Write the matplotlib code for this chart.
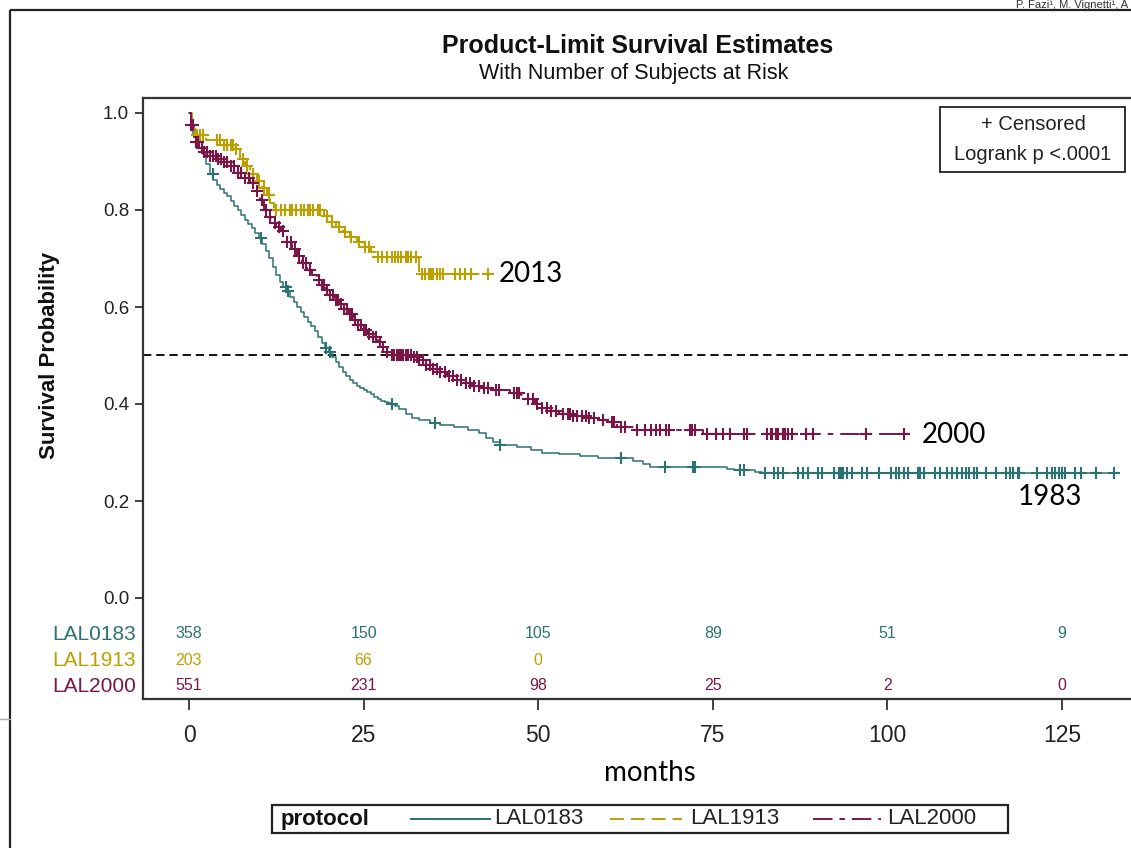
import numpy as np
import matplotlib
matplotlib.use("Agg")
import matplotlib.pyplot as plt
from matplotlib.patches import Rectangle

plt.rcParams["lines.scale_dashes"] = False

# ---------------- data ----------------
# Kaplan-Meier step knots: (months, survival probability)
lal0183_steps = [
    (0, 1.0), (0.3, 0.975), (0.6, 0.955), (1, 0.94), (1.5, 0.928), (2, 0.915),
    (2.5, 0.895), (3, 0.875), (3.5, 0.862), (4, 0.852), (4.5, 0.844), (5, 0.836),
    (5.5, 0.828), (6, 0.818), (6.5, 0.809), (7, 0.80), (7.5, 0.79), (8, 0.78),
    (8.5, 0.771), (9, 0.762), (9.5, 0.752), (10, 0.742), (10.5, 0.73), (11, 0.716),
    (11.5, 0.70), (12, 0.683), (12.5, 0.666), (13, 0.652), (13.5, 0.642), (14, 0.632),
    (14.5, 0.62), (15, 0.61), (15.5, 0.60), (16, 0.59), (16.5, 0.58), (17, 0.57),
    (17.5, 0.56), (18, 0.55), (18.5, 0.538), (19, 0.525), (19.5, 0.516), (20, 0.507),
    (20.5, 0.497), (21, 0.487), (21.5, 0.476), (22, 0.466), (22.5, 0.457), (23, 0.45),
    (23.5, 0.443), (24, 0.437), (24.5, 0.432), (25, 0.428), (25.5, 0.424), (26, 0.42),
    (26.5, 0.415), (27, 0.41), (27.5, 0.407), (28, 0.405), (28.5, 0.402), (29, 0.40),
    (29.5, 0.395), (30, 0.39), (31, 0.38), (32, 0.372), (33, 0.367), (34.5, 0.36),
    (36, 0.357), (38, 0.352), (40, 0.347), (41.5, 0.34), (42.5, 0.33), (43.5, 0.322),
    (44.5, 0.316), (47, 0.312), (49, 0.306), (50.5, 0.30), (53, 0.297), (56, 0.293),
    (58.5, 0.289), (63.6, 0.283), (65, 0.276), (66, 0.271), (77, 0.267), (78, 0.264),
    (81, 0.26), (82, 0.257),
]
lal0183_end = 132.9
lal0183_censored = [
    3.4, 10.3, 13.9, 14.2, 19.6, 20.2, 29.0, 35.2, 44.5, 61.8, 68.2, 72.2, 72.4,
    78.9, 79.4, 82.5, 83.8, 84.3, 85.0, 87.2, 87.9, 88.6, 90.1, 90.6, 92.3, 93.0,
    93.2, 93.5, 93.7, 94.2, 94.9, 96.4, 97.1, 98.8, 100.5, 101.2, 101.7, 102.4,
    102.9, 104.4, 104.6, 105.3, 106.8, 107.5, 108.5, 109.2, 110.0, 110.7, 111.2,
    111.7, 112.4, 112.9, 114.1, 115.5, 117.0, 117.5, 118.0, 118.7, 118.9, 121.4,
    122.8, 123.5, 124.0, 124.5, 125.0, 125.5, 126.9, 127.7, 129.8, 132.5,
]

lal1913_steps = [
    (0, 1.0), (0.4, 0.975), (0.8, 0.955), (2.5, 0.945), (5, 0.935), (6.5, 0.925),
    (7.3, 0.905), (8, 0.89), (8.8, 0.875), (9.7, 0.86), (10.5, 0.845), (11.1, 0.83),
    (11.6, 0.815), (12.1, 0.80), (19.4, 0.788), (20, 0.775), (21, 0.765), (22, 0.755),
    (23, 0.745), (24, 0.734), (25, 0.724), (26, 0.713), (26.8, 0.703), (33, 0.668),
]
lal1913_end = 42.9
lal1913_censored = [
    1.2, 1.6, 2.0, 4.0, 4.5, 5.0, 5.5, 6.0, 6.3, 6.8, 7.8, 8.3, 9.2, 10.0, 10.8,
    11.4, 12.5, 13.2, 13.7, 14.4, 14.8, 15.3, 16.0, 16.5, 17.0, 17.3, 17.7, 18.4,
    18.8, 19.8, 20.5, 21.5, 22.3, 23.2, 24.3, 25.2, 25.8, 27.0, 27.7, 28.4, 29.1,
    29.5, 29.9, 30.3, 31.1, 31.4, 31.8, 32.5, 33.3, 33.8, 34.3, 34.6, 35.0, 35.5,
    35.9, 36.4, 38.1, 38.8, 39.5, 40.4, 42.8,
]

lal2000_steps = [
    (0, 1.0), (0.3, 0.975), (0.7, 0.95), (1, 0.94), (1.5, 0.928), (2, 0.92),
    (3, 0.912), (4, 0.905), (5, 0.898), (6, 0.89), (7, 0.877), (8, 0.865),
    (8.7, 0.856), (9.5, 0.84), (10.2, 0.82), (10.8, 0.80), (11.3, 0.785),
    (11.8, 0.773), (12.5, 0.765), (13.2, 0.757), (14, 0.735), (14.7, 0.72),
    (15.5, 0.705), (16.2, 0.69), (16.9, 0.676), (17.6, 0.665), (18.3, 0.655),
    (19, 0.645), (19.6, 0.635), (20.2, 0.625), (20.8, 0.615), (21.5, 0.606),
    (22.2, 0.596), (22.8, 0.585), (23.5, 0.573), (24.2, 0.562), (24.9, 0.553),
    (25.6, 0.545), (26.3, 0.538), (27, 0.528), (27.7, 0.518), (28.4, 0.508),
    (29, 0.502), (30, 0.50), (32, 0.497), (33, 0.49), (34, 0.48), (35, 0.472),
    (36, 0.465), (37, 0.457), (38, 0.45), (39.2, 0.443), (40.5, 0.438), (42, 0.433),
    (44, 0.429), (46, 0.423), (47.5, 0.418), (48.5, 0.41), (49.5, 0.40),
    (50.5, 0.392), (51.5, 0.386), (53, 0.38), (55, 0.376), (57, 0.372),
    (58.5, 0.368), (59.5, 0.362), (61.3, 0.352), (63.9, 0.346), (73.6, 0.338),
]
lal2000_end = 102.9
lal2000_censored = [
    0.3, 0.6, 1.0, 1.3, 1.8, 2.2, 2.6, 3.0, 3.4, 3.8, 4.2, 4.6, 5.0, 5.5, 6.0,
    6.5, 7.0, 7.5, 8.0, 8.6, 9.2, 9.8, 10.4, 11.0, 11.6, 12.3, 12.9, 13.5, 14.0,
    14.6, 15.2, 15.8, 16.3, 16.8, 17.3, 18.6, 19.0, 19.4, 19.8, 20.2, 20.6, 21.0,
    21.4, 21.8, 22.2, 22.6, 23.0, 23.4, 23.8, 24.2, 24.6, 25.0, 25.4, 25.8, 26.3,
    26.8, 27.3, 27.8, 28.4, 29.0, 29.4, 29.8, 30.1, 30.4, 30.7, 31.0, 31.4, 31.8,
    32.2, 32.6, 33.0, 33.5, 34.0, 34.5, 35.0, 35.5, 36.0, 36.6, 37.2, 37.8, 38.4,
    39.0, 39.6, 40.2, 40.8, 41.5, 42.3, 42.8, 44.0, 44.4, 46.5, 46.9, 47.3, 48.5,
    49.2, 49.8, 50.5, 51.2, 51.8, 52.5, 53.5, 54.2, 54.6, 55.0, 55.6, 56.2, 56.8,
    57.3, 58.0, 59.3, 60.6, 60.8, 61.9, 62.4, 64.1, 65.3, 66.1, 66.8, 67.5, 68.3,
    68.7, 71.8, 72.0, 72.4, 74.1, 75.5, 76.5, 77.5, 79.4, 79.9, 82.8, 83.3, 83.5,
    84.0, 84.3, 85.0, 85.3, 85.7, 86.4, 88.4, 89.4, 96.9, 102.4,
]

# numbers at risk
risk_times = [0, 25, 50, 75, 100, 125]
risk_lal0183 = [358, 150, 105, 89, 51, 9]
risk_lal1913 = [203, 66, 0]
risk_lal2000 = [551, 231, 98, 25, 2, 0]

protocols = ["LAL0183", "LAL1913", "LAL2000"]
x_ticks = [0, 25, 50, 75, 100, 125]
y_ticks = [0.0, 0.2, 0.4, 0.6, 0.8, 1.0]

# ---------------- style ----------------
TEAL = "#2B7272"
GOLD = "#BBA000"
MAROON = "#7A1646"
AXC = "#333333"
SANS = ["Liberation Sans", "DejaVu Sans"]
NOTE = ["Lato", "Open Sans", "DejaVu Sans"]
DASH_1913 = (0, (10, 5))
DASH_2000 = (0, (14, 5, 4, 5))

W, H = 1131, 848
fig = plt.figure(figsize=(W / 100, H / 100), dpi=100)


def px_box(x0, y0, x1, y1):
    return [x0 / W, 1 - y1 / H, (x1 - x0) / W, (y1 - y0) / H]


ax = fig.add_axes(px_box(143, 98, 1137, 699))
x_per_px = 25 / 174.6
ax.set_xlim(-(189 - 143) * x_per_px, (1137 - 189) * x_per_px)
ax.set_ylim(-(699 - 598) / 485, (598 - 98) / 485)

series = [
    (lal0183_steps, lal0183_end, lal0183_censored, TEAL, "-", 1.1),
    (lal1913_steps, lal1913_end, lal1913_censored, GOLD, DASH_1913, 1.4),
    (lal2000_steps, lal2000_end, lal2000_censored, MAROON, DASH_2000, 1.4),
]

for steps, t_end, cens, col, ls, lw in series:
    t = np.array([p[0] for p in steps] + [t_end])
    s = np.array([p[1] for p in steps] + [steps[-1][1]])
    ax.step(t, s, where="post", color=col, lw=lw, ls=ls, zorder=3)
    c = np.array(cens)
    idx = np.searchsorted(t[:-1], c, side="right") - 1
    ax.plot(c, s[idx], ls="none", marker="+", ms=8.5, mew=1.5, color=col, zorder=4)

ax.axhline(0.5, color="black", lw=1.3, ls=(0, (6, 3.5)), zorder=2)

# numbers at risk inside the axes, below zero
risk_rows = [(risk_lal0183, TEAL, -0.074), (risk_lal1913, GOLD, -0.128),
             (risk_lal2000, MAROON, -0.181)]
for counts, col, yrow in risk_rows:
    for tt, n in zip(risk_times, counts):
        ax.text(tt, yrow, str(n), color=col, ha="center", va="center",
                fontsize=11.5, family=SANS)

ax.set_yticks(y_ticks)
ax.set_yticklabels([f"{v:.1f}" for v in y_ticks], family=SANS, fontsize=13.5)
ax.set_xticks(x_ticks)
ax.set_xticklabels([str(v) for v in x_ticks], family=SANS, fontsize=16.5)
ax.tick_params(axis="y", direction="out", length=6, width=1.3, color=AXC, pad=4,
               labelcolor="#222222")
ax.tick_params(axis="x", direction="out", length=8, width=1.3, color=AXC, pad=10,
               labelcolor="#222222")
for side in ["left", "top", "bottom"]:
    ax.spines[side].set_linewidth(1.6)
    ax.spines[side].set_color(AXC)
ax.spines["right"].set_visible(False)

# year annotations next to the curves
ax.text(44.3, 0.668, "2013", family=NOTE, fontsize=20, va="center", ha="left")
ax.text(104.9, 0.336, "2000", family=NOTE, fontsize=20, va="center", ha="left")
ax.text(118.6, 0.208, "1983", family=NOTE, fontsize=20, va="center", ha="left")

# ---------------- page-level decorations (pixel coordinates) ----------------
ov = fig.add_axes([0, 0, 1, 1], zorder=5)
ov.set_xlim(0, W)
ov.set_ylim(H, 0)
ov.axis("off")
ov.patch.set_visible(False)

ov.plot([10, W], [10, 10], color="#222222", lw=1.6, solid_capstyle="butt")
ov.plot([10, 10], [10, H], color="#222222", lw=1.6, solid_capstyle="butt")
ov.plot([0, 10], [719, 719], color="#aaaaaa", lw=1.0)
ov.text(1128, 8.5, "P. Fazi\u00b9, M. Vignetti\u00b9, A", family=SANS, fontsize=8,
        ha="right", va="baseline", color="#333333")

ov.text(638, 46, "Product-Limit Survival Estimates", family=SANS, fontsize=18,
        fontweight="bold", ha="center", va="center", color="#111111")
ov.text(634, 74, "With Number of Subjects at Risk", family=SANS, fontsize=15.5,
        ha="center", va="center", color="#111111")
ov.text(50, 355, "Survival Probability", family=SANS, fontsize=16, fontweight="bold",
        rotation=90, ha="center", va="center", color="#111111")

for name, col, yrow in zip(protocols, [TEAL, GOLD, MAROON], [634, 660, 686]):
    ov.text(136, yrow, name, color=col, family=SANS, fontsize=15,
            ha="right", va="center")

ov.text(650, 773, "months", family=NOTE, fontsize=20, ha="center", va="center")

# censored / logrank inset
ov.add_patch(Rectangle((940, 107), 185, 65, fill=True, facecolor="white",
                       edgecolor="#222222", lw=1.3))
ov.text(1033, 124, "+ Censored", family=SANS, fontsize=14.5, ha="center", va="center",
        color="#222222")
ov.text(1033, 155, "Logrank p <.0001", family=SANS, fontsize=14.5, ha="center",
        va="center", color="#222222")

# protocol legend
ov.add_patch(Rectangle((272, 805), 736, 28, fill=True, facecolor="white",
                       edgecolor="#222222", lw=1.6))
ov.text(281, 819, "protocol", family=SANS, fontsize=16, fontweight="bold",
        ha="left", va="center", color="#111111")
legend_items = [
    (411, 490, 494, "LAL0183", TEAL, "-"),
    (610, 682, 690, "LAL1913", GOLD, DASH_1913),
    (813, 881, 887, "LAL2000", MAROON, DASH_2000),
]
for x0, x1, xt, name, col, ls in legend_items:
    ov.plot([x0, x1], [819, 819], color=col, ls=ls, lw=1.4)
    ov.text(xt, 819, name, family=SANS, fontsize=16, ha="left", va="center",
            color="#222222")

fig.savefig("out.png", dpi=100)
